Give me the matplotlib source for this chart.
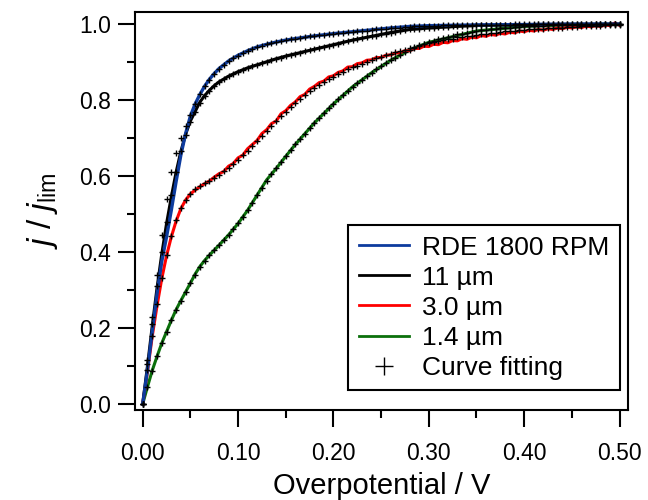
import numpy as np
import matplotlib
matplotlib.use("Agg")
import matplotlib.pyplot as plt
from matplotlib.lines import Line2D
from matplotlib.ticker import MultipleLocator, FormatStrFormatter

# fonts .....................................................................
plt.rcParams['font.family'] = ['Liberation Sans', 'DejaVu Sans']
plt.rcParams['mathtext.fontset'] = 'custom'
plt.rcParams['mathtext.rm'] = 'Liberation Sans'
plt.rcParams['mathtext.it'] = 'Liberation Sans:italic'

# measured curves (overpotential in V, normalised current) ....................
v_line = [0, 0.005, 0.01, 0.015, 0.02, 0.025, 0.03, 0.035, 0.04, 0.045,
          0.05, 0.055, 0.06, 0.065, 0.07, 0.075, 0.08, 0.09, 0.1, 0.11,
          0.12, 0.13, 0.14, 0.15, 0.16, 0.18, 0.2, 0.22, 0.24, 0.26,
          0.28, 0.3, 0.35, 0.4, 0.45, 0.5]
rde_line = [0, 0.09, 0.19, 0.29, 0.375, 0.44, 0.51, 0.585, 0.655, 0.712,
            0.758, 0.79, 0.815, 0.837, 0.855, 0.87, 0.883, 0.903, 0.918, 0.93,
            0.94, 0.947, 0.953, 0.958, 0.962, 0.969, 0.975, 0.98, 0.985, 0.99,
            0.994, 0.996, 0.998, 0.999, 1.0, 1.0]
um11_line = [0, 0.10, 0.205, 0.305, 0.395, 0.475, 0.545, 0.61, 0.665, 0.71,
             0.745, 0.77, 0.795, 0.812, 0.826, 0.838, 0.848, 0.863, 0.875, 0.885,
             0.893, 0.901, 0.909, 0.916, 0.922, 0.934, 0.946, 0.958, 0.968, 0.978,
             0.986, 0.99, 0.997, 0.999, 1.0, 1.0]
um14_line = [0, 0.045, 0.088, 0.125, 0.16, 0.19, 0.22, 0.248, 0.272, 0.295,
             0.318, 0.342, 0.362, 0.378, 0.392, 0.405, 0.418, 0.445, 0.475, 0.51,
             0.55, 0.59, 0.62, 0.652, 0.683, 0.74, 0.79, 0.835, 0.872, 0.905,
             0.932, 0.952, 0.982, 0.994, 0.999, 1.0]

# 3.0 um curve is noisy, so it is kept on the fine 5 mV grid ..................
fit_v = np.round(np.arange(101) * 0.005, 3)
um30_line = [0.000, 0.085, 0.178, 0.258, 0.330, 0.390, 0.440, 0.481, 0.514, 0.537,
             0.553, 0.563, 0.572, 0.580, 0.587, 0.597, 0.606, 0.612, 0.626, 0.633,
             0.648, 0.655, 0.672, 0.683, 0.694, 0.712, 0.722, 0.738, 0.745, 0.764,
             0.772, 0.786, 0.795, 0.809, 0.815, 0.829, 0.836, 0.846, 0.850, 0.861,
             0.864, 0.873, 0.877, 0.887, 0.888, 0.896, 0.898, 0.905, 0.906, 0.912,
             0.912, 0.918, 0.919, 0.924, 0.925, 0.930, 0.930, 0.936, 0.936, 0.942,
             0.941, 0.947, 0.946, 0.952, 0.951, 0.957, 0.956, 0.962, 0.960, 0.966,
             0.964, 0.970, 0.968, 0.973, 0.971, 0.976, 0.974, 0.979, 0.977, 0.982,
             0.980, 0.984, 0.982, 0.986, 0.984, 0.988, 0.986, 0.990, 0.988, 0.992,
             0.990, 0.993, 0.991, 0.995, 0.993, 0.996, 0.994, 0.998, 0.996, 1.003,
             0.997]

# curve fitting results on the 5 mV grid ......................................
rde_fit = [0.000, 0.115, 0.230, 0.340, 0.445, 0.540, 0.610, 0.660, 0.700, 0.733,
           0.762, 0.790, 0.815, 0.836, 0.854, 0.869, 0.882, 0.893, 0.902, 0.910,
           0.917, 0.923, 0.929, 0.934, 0.939, 0.943, 0.947, 0.950, 0.953, 0.956,
           0.958, 0.960, 0.962, 0.964, 0.966, 0.968, 0.969, 0.971, 0.972, 0.974,
           0.975, 0.976, 0.977, 0.979, 0.980, 0.981, 0.982, 0.983, 0.985, 0.986,
           0.987, 0.988, 0.989, 0.990, 0.991, 0.992, 0.993, 0.994, 0.994, 0.995,
           0.995, 0.996, 0.996, 0.997, 0.997, 0.997, 0.998, 0.998, 0.998, 0.998,
           0.998, 0.999, 0.999, 0.999, 0.999, 0.999, 0.999, 0.999, 1.000, 1.000,
           1.000, 1.000, 1.000, 1.000, 1.000, 1.000, 1.000, 1.000, 1.000, 1.000,
           1.000, 1.000, 1.000, 1.000, 1.000, 1.000, 1.000, 1.000, 1.000, 1.000,
           1.000]
um11_fit = [0.000, 0.105, 0.210, 0.310, 0.400, 0.480, 0.550, 0.612, 0.665, 0.708,
            0.742, 0.769, 0.792, 0.810, 0.825, 0.837, 0.847, 0.856, 0.863, 0.869,
            0.875, 0.880, 0.885, 0.889, 0.893, 0.897, 0.901, 0.905, 0.909, 0.912,
            0.916, 0.919, 0.922, 0.925, 0.928, 0.931, 0.934, 0.937, 0.940, 0.943,
            0.946, 0.949, 0.952, 0.955, 0.958, 0.960, 0.963, 0.965, 0.968, 0.970,
            0.973, 0.975, 0.978, 0.980, 0.982, 0.984, 0.986, 0.987, 0.988, 0.989,
            0.990, 0.991, 0.992, 0.993, 0.993, 0.994, 0.995, 0.995, 0.996, 0.996,
            0.997, 0.997, 0.997, 0.998, 0.998, 0.998, 0.998, 0.999, 0.999, 0.999,
            0.999, 0.999, 0.999, 1.000, 1.000, 1.000, 1.000, 1.000, 1.000, 1.000,
            1.000, 1.000, 1.000, 1.000, 1.000, 1.000, 1.000, 1.000, 1.000, 1.000,
            1.000]
um30_fit = [0.000, 0.090, 0.180, 0.262, 0.332, 0.392, 0.442, 0.483, 0.515, 0.538,
            0.554, 0.565, 0.574, 0.581, 0.588, 0.596, 0.604, 0.613, 0.622, 0.632,
            0.643, 0.655, 0.667, 0.680, 0.693, 0.706, 0.719, 0.732, 0.745, 0.757,
            0.769, 0.781, 0.792, 0.803, 0.813, 0.823, 0.832, 0.840, 0.848, 0.855,
            0.862, 0.868, 0.875, 0.881, 0.886, 0.891, 0.896, 0.901, 0.906, 0.910,
            0.914, 0.918, 0.922, 0.926, 0.930, 0.933, 0.937, 0.940, 0.944, 0.947,
            0.950, 0.953, 0.955, 0.958, 0.960, 0.962, 0.965, 0.967, 0.969, 0.970,
            0.972, 0.974, 0.975, 0.977, 0.978, 0.979, 0.981, 0.982, 0.983, 0.984,
            0.985, 0.986, 0.987, 0.988, 0.988, 0.989, 0.990, 0.991, 0.991, 0.992,
            0.993, 0.993, 0.994, 0.995, 0.995, 0.996, 0.996, 0.997, 0.997, 0.998,
            0.998]
um14_fit = [0.000, 0.045, 0.088, 0.125, 0.160, 0.190, 0.220, 0.248, 0.272, 0.295,
            0.318, 0.340, 0.360, 0.377, 0.392, 0.405, 0.418, 0.431, 0.445, 0.460,
            0.476, 0.493, 0.511, 0.530, 0.549, 0.568, 0.587, 0.605, 0.622, 0.638,
            0.654, 0.669, 0.684, 0.698, 0.712, 0.726, 0.740, 0.753, 0.766, 0.778,
            0.790, 0.802, 0.813, 0.824, 0.835, 0.845, 0.854, 0.863, 0.872, 0.881,
            0.889, 0.897, 0.905, 0.912, 0.919, 0.926, 0.932, 0.937, 0.943, 0.948,
            0.952, 0.956, 0.960, 0.964, 0.967, 0.970, 0.973, 0.975, 0.978, 0.980,
            0.982, 0.984, 0.985, 0.987, 0.988, 0.989, 0.990, 0.991, 0.992, 0.993,
            0.994, 0.995, 0.995, 0.996, 0.996, 0.997, 0.997, 0.998, 0.998, 0.998,
            0.999, 0.999, 0.999, 0.999, 0.999, 1.000, 1.000, 1.000, 1.000, 1.000,
            1.000]

labels = ['RDE 1800 RPM', '11 µm', '3.0 µm', '1.4 µm', 'Curve fitting']
colors = ['#0d3b9e', '#000000', '#ff0000', '#0b700b']

# figure ......................................................................
fig = plt.figure(figsize=(6.48, 5.0), dpi=100)
ax = fig.add_axes([0.2083, 0.18, 0.761, 0.796])

ax.plot(v_line, um14_line, color=colors[3], lw=2.2)
ax.plot(fit_v, um30_line, color=colors[2], lw=2.2)
ax.plot(v_line, um11_line, color=colors[1], lw=2.2)
ax.plot(v_line, rde_line, color=colors[0], lw=2.4)

for fit in [rde_fit, um11_fit, um30_fit, um14_fit]:
    ax.plot(fit_v, fit, ls='none', marker='+', ms=5, mew=1.0, color='k')

# axes ........................................................................
ax.set_xlim(-0.0081, 0.509)
ax.set_ylim(-0.016, 1.032)
ax.xaxis.set_major_locator(MultipleLocator(0.1))
ax.xaxis.set_minor_locator(MultipleLocator(0.05))
ax.yaxis.set_major_locator(MultipleLocator(0.2))
ax.yaxis.set_minor_locator(MultipleLocator(0.1))
ax.xaxis.set_major_formatter(FormatStrFormatter('%.2f'))
ax.yaxis.set_major_formatter(FormatStrFormatter('%.1f'))
ax.tick_params(which='major', direction='out', length=12, width=1.5,
               labelsize=16.5, pad=5, top=False, right=False)
ax.tick_params(axis='x', which='major', pad=11)
ax.tick_params(which='minor', direction='out', length=6, width=1.5,
               top=False, right=False)
for sp in ax.spines.values():
    sp.set_linewidth(1.5)

ax.set_xlabel('Overpotential / V', fontsize=21, labelpad=5)
ax.set_ylabel(r'$j$ / $j_{\mathrm{lim}}$', fontsize=24, labelpad=14)

# legend ......................................................................
handles = [Line2D([], [], color=c, lw=2) for c in colors]
handles.append(Line2D([], [], ls='none', marker='+', ms=13, mew=1, color='k'))
leg = ax.legend(handles, labels, loc='upper right', fontsize=19,
                bbox_to_anchor=(620 / 648, 1 - 225 / 500),
                bbox_transform=fig.transFigure, borderaxespad=0,
                fancybox=False, framealpha=1, edgecolor='k',
                handlelength=1.9, handletextpad=0.5, labelspacing=0.23,
                borderpad=0.4)
leg.get_frame().set_linewidth(1.5)

fig.savefig('out.png', dpi=100)
